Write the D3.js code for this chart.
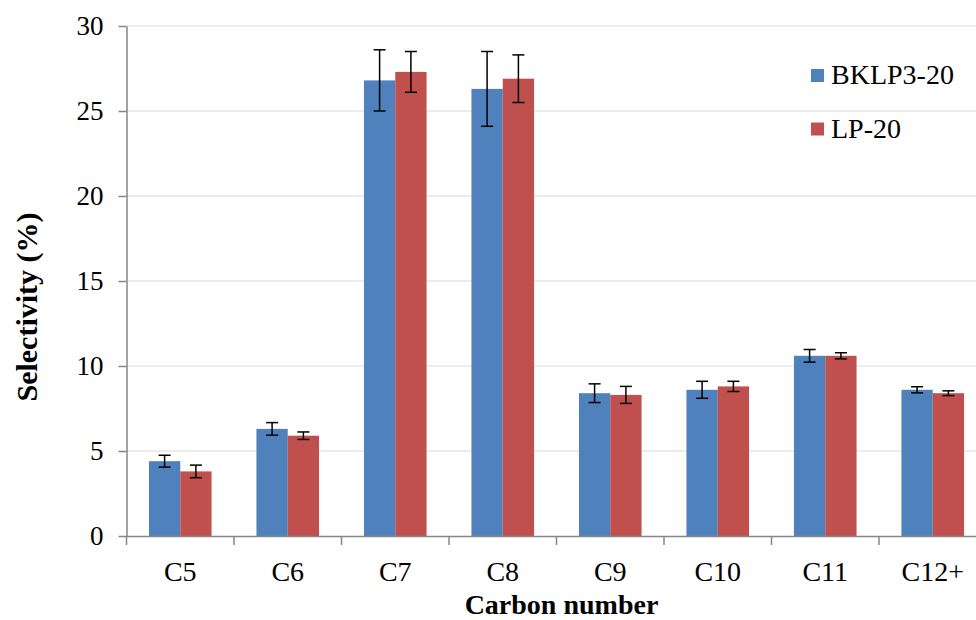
<!DOCTYPE html>
<html>
<head>
<meta charset="utf-8">
<script src="https://cdn.jsdelivr.net/npm/d3@7/dist/d3.min.js"></script>
<style>
  html, body { margin: 0; padding: 0; background: #fff; }
  svg { display: block; }
  text { font-family: "Liberation Serif", "Times New Roman", serif; fill: #000; }
</style>
</head>
<body>
<svg id="chart" width="976" height="620"></svg>
<script>
const categories = ["C5", "C6", "C7", "C8", "C9", "C10", "C11", "C12+"];
const seriesNames = ["BKLP3-20", "LP-20"];
const seriesColors = ["#4F81BD", "#C0504D"];
const bklpValues = [4.4, 6.3, 26.8, 26.3, 8.4, 8.6, 10.6, 8.6];
const bklpErrors = [0.35, 0.37, 1.8, 2.2, 0.55, 0.5, 0.37, 0.18];
const lpValues = [3.8, 5.9, 27.3, 26.9, 8.3, 8.8, 10.6, 8.4];
const lpErrors = [0.37, 0.22, 1.2, 1.4, 0.5, 0.3, 0.18, 0.14];
const yTicks = [0, 5, 10, 15, 20, 25, 30];

const svg = d3.select("#chart");
const plotLeft = 126.5, plotRight = 986.5, plotTop = 26, plotBottom = 536;

const x = d3.scaleBand().domain(categories).range([plotLeft, plotRight]).padding(0);
const x1 = d3.scaleBand().domain(seriesNames).range([0, 62.6]).padding(0);
const y = d3.scaleLinear().domain([0, 30]).range([plotBottom, plotTop]);

// gridlines
svg.append("g").selectAll("line").data(yTicks.filter(t => t > 0)).join("line")
  .attr("x1", plotLeft).attr("x2", 976)
  .attr("y1", d => y(d)).attr("y2", d => y(d))
  .attr("stroke", "#d9d9d9").attr("stroke-width", 1.2);

const series = [
  { name: seriesNames[0], values: bklpValues, errors: bklpErrors, color: seriesColors[0] },
  { name: seriesNames[1], values: lpValues, errors: lpErrors, color: seriesColors[1] }
];

const groupOffset = (x.bandwidth() - 62.6) / 2;

series.forEach(s => {
  const g = svg.append("g");
  g.selectAll("rect").data(categories).join("rect")
    .attr("x", c => x(c) + groupOffset + x1(s.name))
    .attr("width", x1.bandwidth())
    .attr("y", (c, i) => y(s.values[i]))
    .attr("height", (c, i) => y(0) - y(s.values[i]))
    .attr("fill", s.color);
});

// error bars
series.forEach(s => {
  const g = svg.append("g").attr("stroke", "#000").attr("stroke-width", 1.5);
  categories.forEach((c, i) => {
    const cx = x(c) + groupOffset + x1(s.name) + x1.bandwidth() / 2;
    const lo = y(s.values[i] - s.errors[i]);
    const hi = y(s.values[i] + s.errors[i]);
    g.append("line").attr("x1", cx).attr("x2", cx).attr("y1", lo).attr("y2", hi);
    g.append("line").attr("x1", cx - 6).attr("x2", cx + 6).attr("y1", lo).attr("y2", lo);
    g.append("line").attr("x1", cx - 6).attr("x2", cx + 6).attr("y1", hi).attr("y2", hi);
  });
});

// y axis
const yAxis = svg.append("g").attr("transform", `translate(${plotLeft},0)`)
  .call(d3.axisLeft(y).tickValues(yTicks).tickSize(8).tickSizeOuter(0).tickPadding(15));
yAxis.select(".domain").attr("stroke", "#868686").attr("stroke-width", 1.5);
yAxis.selectAll(".tick line").attr("stroke", "#868686").attr("stroke-width", 1.5);
yAxis.selectAll(".tick text").attr("font-size", 27)
  .attr("font-family", "'Liberation Serif', 'Times New Roman', serif");

// x axis
const xAxis = svg.append("g").attr("transform", `translate(0,${plotBottom})`)
  .call(d3.axisBottom(x).tickSize(0).tickSizeOuter(0).tickPadding(25));
xAxis.select(".domain").attr("stroke", "#868686").attr("stroke-width", 1.5);
xAxis.selectAll(".tick text").attr("font-size", 28)
  .attr("font-family", "'Liberation Serif', 'Times New Roman', serif");
svg.append("g").selectAll("line").data(categories).join("line")
  .attr("x1", c => x(c)).attr("x2", c => x(c))
  .attr("y1", plotBottom).attr("y2", plotBottom + 9)
  .attr("stroke", "#868686").attr("stroke-width", 1.5);

// axis titles
svg.append("text")
  .attr("x", (plotLeft + plotRight) / 2 + 5).attr("y", 614)
  .attr("text-anchor", "middle").attr("font-weight", "bold").attr("font-size", 28)
  .text("Carbon number");
svg.append("text")
  .attr("transform", "translate(37,307) rotate(-90)")
  .attr("text-anchor", "middle").attr("font-weight", "bold").attr("font-size", 30)
  .text("Selectivity (%)");

// legend
const legend = svg.append("g");
series.forEach((s, i) => {
  const ly = 84 + i * 53.5;
  legend.append("rect").attr("x", 811).attr("y", ly - 15).attr("width", 13).attr("height", 13)
    .attr("fill", s.color);
  legend.append("text").attr("x", 831).attr("y", ly).attr("font-size", 28).text(s.name);
});
</script>
</body>
</html>
